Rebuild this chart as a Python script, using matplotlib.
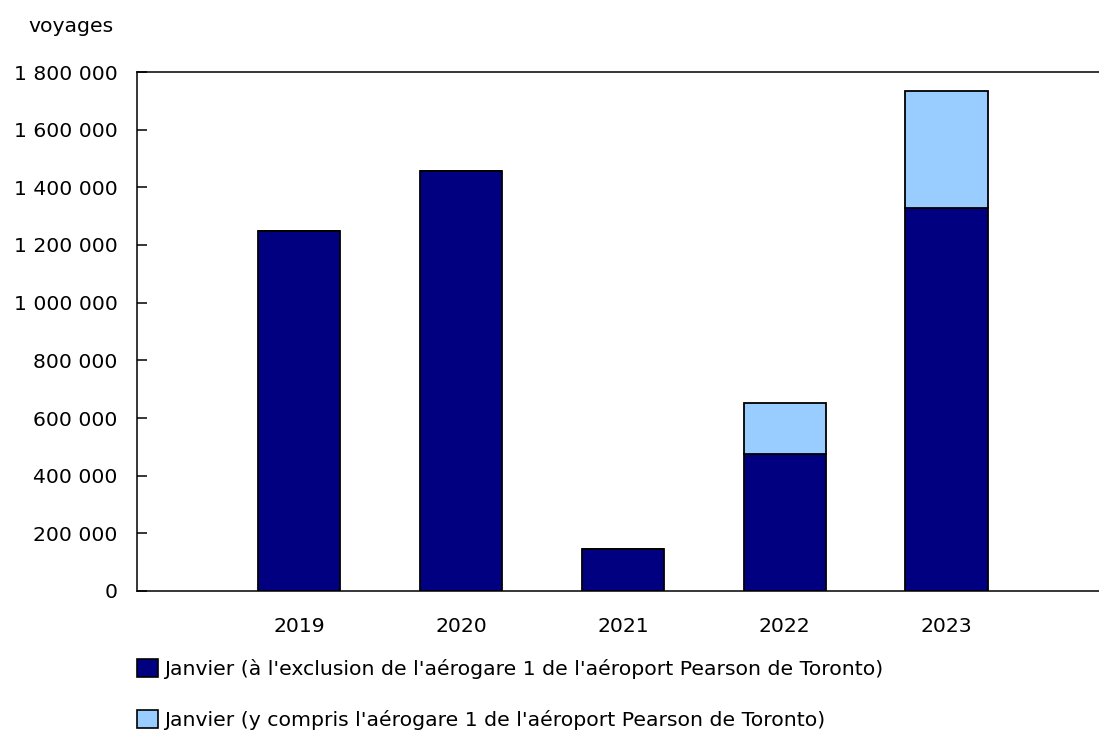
import matplotlib
matplotlib.use("Agg")
import matplotlib.pyplot as plt
from matplotlib.patches import Patch
from matplotlib.ticker import FuncFormatter

plt.rcParams['font.family'] = ['DejaVu Sans']

years = ["2019", "2020", "2021", "2022", "2023"]
excl_t1 = [1250000, 1457000, 145000, 474000, 1330000]
incl_t1_extra = [0, 0, 0, 177000, 405000]
label_excl = "Janvier (à l'exclusion de l'aérogare 1 de l'aéroport Pearson de Toronto)"
label_incl = "Janvier (y compris l'aérogare 1 de l'aéroport Pearson de Toronto)"
y_ticks = [0, 200000, 400000, 600000, 800000, 1000000, 1200000, 1400000, 1600000, 1800000]

dark = "#000080"
light = "#99CCFF"
fs = 14.7

fig = plt.figure(figsize=(10.99, 7.32), dpi=100)
ax = fig.add_axes([137/1099, 1 - 591/732, (1099 - 137)/1099, (591 - 72)/732])

pos = list(range(1, len(years) + 1))
ax.bar(pos, excl_t1, width=0.51, color=dark, edgecolor="black", linewidth=1.3, zorder=3)
ax.bar(pos, incl_t1_extra, width=0.51, bottom=excl_t1, color=light, edgecolor="black",
       linewidth=1.3, zorder=3)

ax.set_xlim(0, 5.94)
ax.set_ylim(0, 1800000)
ax.set_yticks(y_ticks)
ax.yaxis.set_major_formatter(FuncFormatter(lambda v, p: f"{int(v):,}".replace(",", " ")))
ax.set_xticks(pos)
ax.set_xticklabels(years)
ax.tick_params(axis="y", direction="in", length=7, width=1.1, pad=14, labelsize=fs)
ax.tick_params(axis="x", length=0, pad=18.5, labelsize=fs)

for s in ["left", "bottom", "top"]:
    ax.spines[s].set_linewidth(1.1)
ax.spines["right"].set_visible(False)

fig.text(28/1099, 1 - 26/732, "voyages", fontsize=fs, va="center", ha="left")

handles = [Patch(facecolor=dark, edgecolor="black", linewidth=1.2),
           Patch(facecolor=light, edgecolor="black", linewidth=1.2)]
fig.legend(handles, [label_excl, label_incl], loc="upper left",
           bbox_to_anchor=(131/1099, 1 - 653/732), frameon=False, fontsize=fs,
           handlelength=1.0, handleheight=1.0, handletextpad=0.3, labelspacing=1.5,
           borderaxespad=0, borderpad=0.3)

fig.savefig("out.png", dpi=100)
